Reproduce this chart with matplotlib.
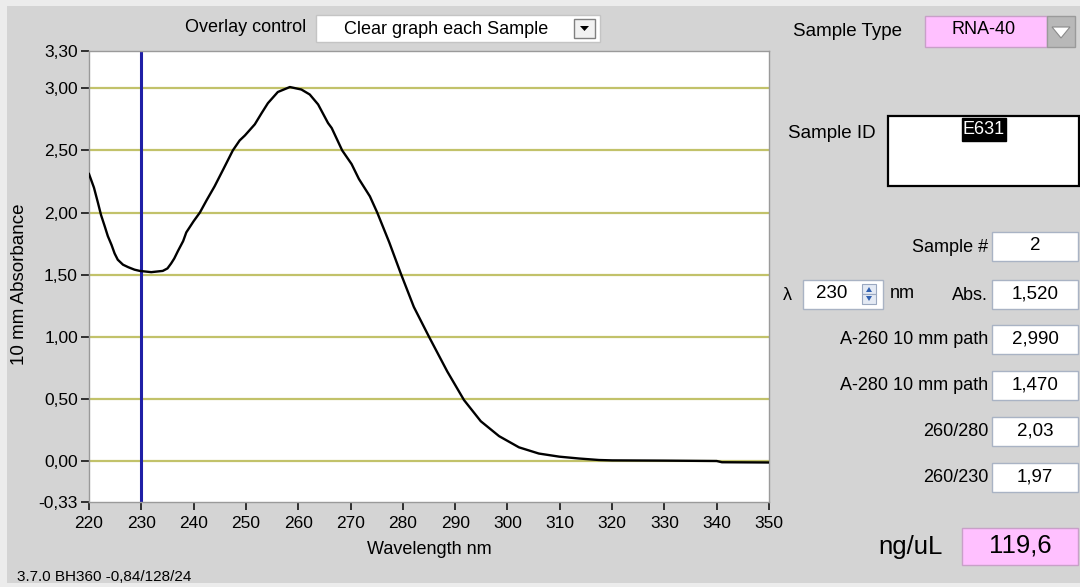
import numpy as np
import matplotlib
matplotlib.use('Agg')
import matplotlib.pyplot as plt
from matplotlib.patches import Rectangle, Polygon

plt.rcParams['font.family'] = ['Liberation Sans', 'DejaVu Sans']

# spectrum
wavelength = [220, 220.95, 221.7, 222.3, 223, 223.6, 224.3, 224.9, 225.5, 226.5,
              227.5, 228.7, 229.7, 231.9, 234.1, 235.0, 235.7, 236.3, 237, 238,
              238.6, 240, 241.2, 242.5, 244, 245.7, 247.5, 248.8, 249.8, 251.7,
              253, 254.2, 256.1, 258.4, 260.6, 262.2, 263.8, 265.7, 266.4, 268.4,
              270.2, 271.6, 273.7, 275.1, 277.4, 279.6, 282.1, 285, 288.5, 291.7,
              294.9, 298.4, 302.2, 306, 309.9, 313.7, 317.5, 320, 330, 340,
              341, 350]
absorbance = [2.31, 2.20, 2.08, 1.98, 1.89, 1.81, 1.74, 1.67, 1.62, 1.58,
              1.56, 1.54, 1.53, 1.52, 1.53, 1.55, 1.59, 1.63, 1.69, 1.77,
              1.84, 1.93, 2.00, 2.10, 2.21, 2.35, 2.50, 2.58, 2.62, 2.71,
              2.80, 2.88, 2.97, 3.01, 2.99, 2.95, 2.87, 2.72, 2.68, 2.50,
              2.39, 2.27, 2.13, 2.00, 1.76, 1.51, 1.24, 1.00, 0.72, 0.49,
              0.32, 0.20, 0.11, 0.06, 0.035, 0.02, 0.008, 0.005, 0.003, 0.0,
              -0.01, -0.012]

x_ticks = [220, 230, 240, 250, 260, 270, 280, 290, 300, 310, 320, 330, 340, 350]
y_ticks = [-0.33, 0.0, 0.5, 1.0, 1.5, 2.0, 2.5, 3.0, 3.3]
y_tick_labels = ['-0,33', '0,00', '0,50', '1,00', '1,50', '2,00', '2,50', '3,00', '3,30']
grid_levels = [0.0, 0.5, 1.0, 1.5, 2.0, 2.5, 3.0]
cursor_nm = 230

overlay_choice = 'Clear graph each Sample'
sample_type = 'RNA-40'
sample_id = 'E631'
result_labels = ['Sample #', 'Abs.', 'A-260 10 mm path', 'A-280 10 mm path', '260/280', '260/230']
result_values = ['2', '1,520', '2,990', '1,470', '2,03', '1,97']
lambda_value = '230'
concentration = '119,6'
version_text = '3.7.0 BH360 -0,84/128/24'

W, H = 1080, 587
bg = '#d4d4d4'
grid_col = '#c2c26a'
box_edge = '#a9b3c4'
pink = '#ffc0ff'

fig = plt.figure(figsize=(W / 100, H / 100), dpi=100, facecolor=bg)

# screen-space layer for the instrument panel widgets
ui = fig.add_axes([0, 0, 1, 1])
ui.set_xlim(0, W)
ui.set_ylim(H, 0)
ui.axis('off')
ui.patch.set_alpha(0)


def box(x0, y0, x1, y1, face='white', edge=box_edge, lw=1.0):
    ui.add_patch(Rectangle((x0, y0), x1 - x0, y1 - y0, facecolor=face,
                           edgecolor=edge, linewidth=lw))


# light screen border of the capture
ui.add_patch(Rectangle((0, 0), W, 6, facecolor='#ececec', edgecolor='none'))
ui.add_patch(Rectangle((0, 0), 7, H, facecolor='#ececec', edgecolor='none'))
ui.add_patch(Rectangle((0, H - 4), W, 4, facecolor='#ececec', edgecolor='none'))

# graph
left, right, top, bottom = 89, 769, 51, 502
ax = fig.add_axes([left / W, 1 - bottom / H, (right - left) / W, (bottom - top) / H])
ax.set_facecolor('white')
ax.set_xlim(220, 350)
ax.set_ylim(-0.33, 3.3)
ax.hlines(grid_levels, 220, 350, colors=grid_col, linewidth=1.6, zorder=1)
ax.axvline(cursor_nm, color='#1f1fa6', linewidth=2.2, zorder=2)
ax.plot(wavelength, absorbance, color='black', linewidth=1.7, zorder=3)

ax.set_xticks(x_ticks)
ax.set_xticklabels([str(t) for t in x_ticks])
ax.set_yticks(y_ticks)
ax.set_yticklabels(y_tick_labels)
ax.tick_params(direction='out', length=6, width=1.3, color='#222222', labelsize=12.5)
ax.tick_params(axis='x', pad=4)
ax.tick_params(axis='y', pad=2)
for s in ax.spines.values():
    s.set_color('#9a9a9a')
    s.set_linewidth(1.0)
ax.set_xlabel('Wavelength nm', fontsize=13, labelpad=7)
ax.set_ylabel('10 mm Absorbance', fontsize=13.5)
ax.yaxis.set_label_coords(-0.089, 0.483)

# overlay control
ui.text(306, 28, 'Overlay control', ha='right', va='center', fontsize=13)
box(316, 15, 600, 42, edge='#c4c4c4')
ui.text(446, 29, overlay_choice, ha='center', va='center', fontsize=13)
box(574, 19, 595, 38, face='#f2f2f2', edge='#808080')
ui.add_patch(Polygon([[580, 26], [589, 26], [584.5, 31]], closed=True,
                     facecolor='black', edgecolor='none'))

# sample type
ui.text(793, 32, 'Sample Type', ha='left', va='center', fontsize=13.5)
box(925, 16, 1047, 47, face=pink, edge='#c8a0c8')
ui.text(984, 30, sample_type, ha='center', va='center', fontsize=13)
box(1047, 16, 1075, 47, face='#b8b8b8', edge='#9a9a9a')
ui.add_patch(Polygon([[1052, 27], [1070, 27], [1061, 38]], closed=True,
                     facecolor='white', edgecolor='#8a8a8a', linewidth=0.8))

# sample id
ui.text(788, 133, 'Sample ID', ha='left', va='center', fontsize=13.5)
box(888, 116, 1079, 186, edge='black', lw=1.6)
box(962, 118, 1006, 141, face='black', edge='black')
ui.text(984, 130, sample_id, ha='center', va='center', fontsize=13, color='white')

# result readouts
row_y = [247, 295, 340, 386, 432, 478]
for lab, val, yc in zip(result_labels, result_values, row_y):
    ui.text(988, yc, lab, ha='right', va='center', fontsize=13)
    box(992, yc - 15, 1078, yc + 14)
    ui.text(1035, yc - 1, val, ha='center', va='center', fontsize=13.5)

# wavelength cursor entry
ui.text(787, 295, '\u03bb', ha='center', va='center', fontsize=13)
box(803, 280, 883, 309)
ui.text(832, 294, lambda_value, ha='center', va='center', fontsize=13.5)
box(862, 284, 876, 294, face='#e4eaf4', edge='#9aa8c0', lw=0.8)
box(862, 294, 876, 304, face='#e4eaf4', edge='#9aa8c0', lw=0.8)
ui.add_patch(Polygon([[866, 292], [872, 292], [869, 287]], closed=True,
                     facecolor='#3060b0', edgecolor='none'))
ui.add_patch(Polygon([[866, 296], [872, 296], [869, 301]], closed=True,
                     facecolor='#3060b0', edgecolor='none'))
ui.text(890, 294, 'nm', ha='left', va='center', fontsize=13)

# concentration
ui.text(943, 547, 'ng/uL', ha='right', va='center', fontsize=18.5)
box(962, 528, 1078, 565, face=pink, edge='#c8a0c8')
ui.text(1020, 546, concentration, ha='center', va='center', fontsize=18.5)

ui.text(17, 577, version_text, ha='left', va='center', fontsize=11)

fig.savefig('out.png', dpi=100, facecolor=bg)
